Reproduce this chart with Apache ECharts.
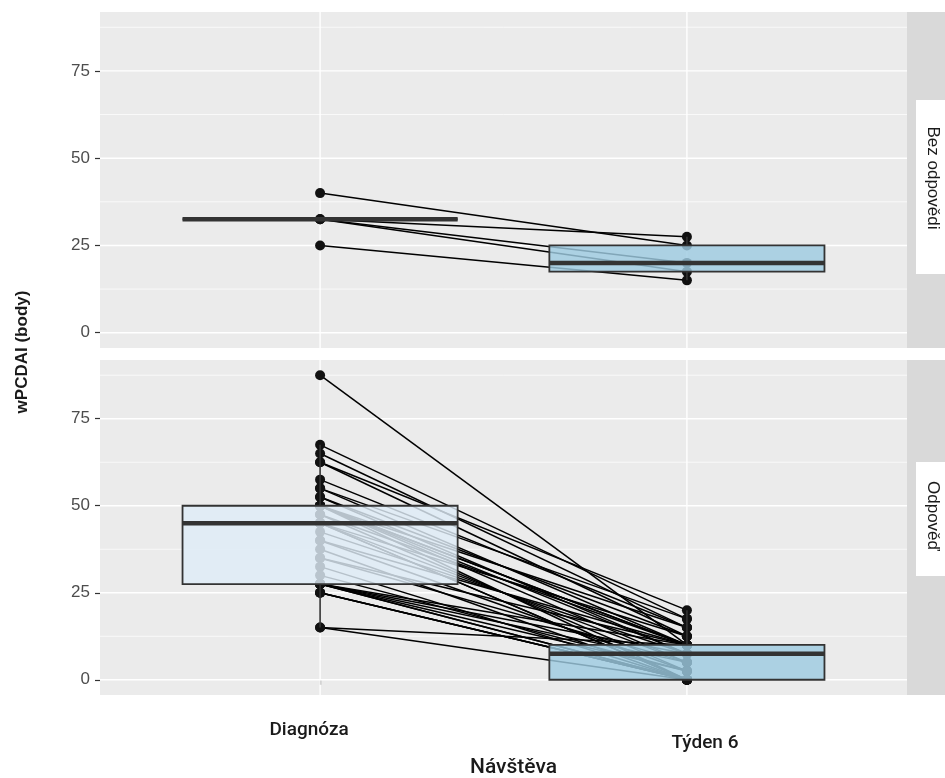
<!DOCTYPE html>
<html>
<head>
<meta charset="utf-8">
<script src="https://cdn.jsdelivr.net/npm/echarts@6/dist/echarts.min.js"></script>
<style>
  html, body { margin: 0; padding: 0; background: #ffffff; }
  #chart { width: 945px; height: 778px; }
</style>
</head>
<body>
<div id="chart"></div>
<script>
// Visits on the x axis, facet panels, and y tick values
const visits = ['Diagnóza', 'Týden 6'];
const panels = ['Bez odpovědi', 'Odpověď'];
const yTicks = [0, 25, 50, 75];
const yMinorTicks = [12.5, 37.5, 62.5, 87.5];

// wPCDAI per patient, paired by index (diagnosis -> week 6)
const noRespDiag  = [40, 32.5, 32.5, 32.5, 25];
const noRespWeek6 = [25, 27.5, 20, 17.5, 15];

const respDiag = [
  87.5, 67.5, 65, 62.5, 62.5, 57.5, 55, 55, 52.5, 52.5,
  50, 50, 50, 50, 50, 50, 47.5, 47.5, 45, 45,
  45, 45, 42.5, 40, 40, 37.5, 35, 35, 32.5, 30,
  27.5, 27.5, 27.5, 27.5, 27.5, 27.5, 25, 25, 25, 15, 15
];
const respWeek6 = [
  10, 17.5, 15, 20, 12.5, 15, 17.5, 10, 12.5, 7.5,
  10, 5, 15, 10, 0, 7.5, 2.5, 10, 0, 5,
  12.5, 0, 7.5, 10, 2.5, 0, 5, 10, 0, 2.5,
  7.5, 0, 5, 10, 0, 2.5, 0, 0, 0, 10, 0
];

const panelData = [
  { diag: noRespDiag, week6: noRespWeek6 },
  { diag: respDiag,   week6: respWeek6 }
];

// Box fill per visit (Blues palette) and box width in category units
const boxFill = ['#DEEBF7', '#9ECAE1'];
const BOX_W = 0.75;
const X_MIN = 0.4, X_MAX = 2.6;
const Y_MIN = -4.375, Y_MAX = 91.875;

// Tukey boxplot statistics, quantile type 7
function quantile(sorted, p) {
  const h = (sorted.length - 1) * p;
  const lo = Math.floor(h), hi = Math.ceil(h);
  return sorted[lo] + (h - lo) * (sorted[hi] - sorted[lo]);
}
function boxStats(vals) {
  const s = vals.slice().sort((a, b) => a - b);
  const q1 = quantile(s, 0.25), med = quantile(s, 0.5), q3 = quantile(s, 0.75);
  const iqr = q3 - q1;
  const lo = s.find(v => v >= q1 - 1.5 * iqr);
  const hi = s.slice().reverse().find(v => v <= q3 + 1.5 * iqr);
  return [lo, q1, med, q3, hi];
}

const grids = [
  { left: 100, top: 12,  width: 807, height: 336, show: true, backgroundColor: '#EBEBEB', borderWidth: 0, outerBoundsMode: 'none' },
  { left: 100, top: 360, width: 807, height: 335, show: true, backgroundColor: '#EBEBEB', borderWidth: 0, outerBoundsMode: 'none' }
];

const xAxes = [0, 1].map(i => {
  const bottom = i === 1;
  return {
    type: 'value', gridIndex: i, min: X_MIN, max: X_MAX,
    axisLine: { show: false },
    splitLine: { show: false },
    axisTick: { show: bottom, customValues: [1, 2], length: 5, lineStyle: { color: '#333333', width: 1.2 } },
    axisLabel: {
      show: bottom, customValues: [1, 2], margin: 26,
      formatter: v => (v === 1 ? '{d|' + visits[0] + '}' : '{t|' + visits[1] + '}'),
      rich: {
        d: { fontFamily: 'Roboto', fontWeight: 500, fontSize: 19, color: '#1A1A1A', padding: [0, 22, 0, 0] },
        t: { fontFamily: 'Roboto', fontWeight: 500, fontSize: 19, color: '#1A1A1A', padding: [13, 0, 0, 36] }
      }
    },
    name: bottom ? 'Návštěva' : '',
    nameLocation: 'middle', nameGap: 62,
    nameTextStyle: { fontFamily: 'Roboto', fontWeight: 500, fontSize: 21, color: '#1A1A1A', padding: [0, 0, 0, 20] }
  };
});

const yAxes = [0, 1].map(i => ({
  type: 'value', gridIndex: i, min: Y_MIN, max: Y_MAX,
  axisLine: { show: false },
  splitLine: { show: false },
  axisTick: { show: true, customValues: yTicks, length: 5, lineStyle: { color: '#333333', width: 1.2 } },
  axisLabel: { show: true, customValues: yTicks, margin: 10, fontFamily: 'Liberation Sans', fontSize: 17, color: '#4D4D4D' }
}));

// grid line specs: [orientation, value, width]  (0 = horizontal, 1 = vertical)
const gridLineSpecs = []
  .concat(yMinorTicks.map(v => [0, v, 0.7]))
  .concat(yTicks.map(v => [0, v, 1.4]))
  .concat([1, 2].map(v => [1, v, 1.4]));

const series = [];
panelData.forEach((pd, i) => {
  // panel grid lines
  series.push({
    type: 'custom', xAxisIndex: i, yAxisIndex: i, z: 1, silent: true,
    data: gridLineSpecs,
    renderItem: (params, api) => {
      const o = api.value(0), v = api.value(1), w = api.value(2);
      const a = o === 0 ? api.coord([X_MIN, v]) : api.coord([v, Y_MIN]);
      const b = o === 0 ? api.coord([X_MAX, v]) : api.coord([v, Y_MAX]);
      return { type: 'line', shape: { x1: a[0], y1: a[1], x2: b[0], y2: b[1] }, style: { stroke: '#FFFFFF', lineWidth: w } };
    }
  });

  // paired lines per patient
  series.push({
    type: 'lines', coordinateSystem: 'cartesian2d', xAxisIndex: i, yAxisIndex: i,
    z: 2, silent: true, polyline: false,
    lineStyle: { color: '#000000', width: 1.5, opacity: 1 },
    data: pd.diag.map((d, k) => ({ coords: [[1, d], [2, pd.week6[k]]] }))
  });

  // points
  const pts = [];
  pd.diag.forEach((d, k) => { pts.push([1, d]); pts.push([2, pd.week6[k]]); });
  series.push({
    type: 'scatter', xAxisIndex: i, yAxisIndex: i, z: 3, silent: true,
    symbol: 'circle', symbolSize: 10,
    itemStyle: { color: '#111111', opacity: 1 },
    data: pts
  });

  // boxplots
  const boxes = [pd.diag, pd.week6].map((vals, j) => [j + 1].concat(boxStats(vals), [j]));
  series.push({
    type: 'custom', xAxisIndex: i, yAxisIndex: i, z: 4, silent: true,
    data: boxes,
    renderItem: (params, api) => {
      const x = api.value(0);
      const lo = api.value(1), q1 = api.value(2), med = api.value(3), q3 = api.value(4), hi = api.value(5);
      const fill = boxFill[api.value(6)];
      const tl = api.coord([x - BOX_W / 2, q3]);
      const br = api.coord([x + BOX_W / 2, q1]);
      const mL = api.coord([x - BOX_W / 2, med]);
      const mR = api.coord([x + BOX_W / 2, med]);
      const cTop = api.coord([x, q3]), cHi = api.coord([x, hi]);
      const cBot = api.coord([x, q1]), cLo = api.coord([x, lo]);
      const stroke = '#333333';
      return {
        type: 'group',
        children: [
          { type: 'line', shape: { x1: cTop[0], y1: cTop[1], x2: cHi[0], y2: cHi[1] }, style: { stroke, lineWidth: 1.6 } },
          { type: 'line', shape: { x1: cBot[0], y1: cBot[1], x2: cLo[0], y2: cLo[1] }, style: { stroke, lineWidth: 1.6 } },
          { type: 'rect', shape: { x: tl[0], y: tl[1], width: br[0] - tl[0], height: br[1] - tl[1] },
            style: { fill, opacity: 1, stroke, lineWidth: 1.8, fillOpacity: 0.82 } },
          { type: 'line', shape: { x1: mL[0], y1: mL[1], x2: mR[0], y2: mR[1] }, style: { stroke, lineWidth: 4.5 } }
        ]
      };
    }
  });
});

// facet strips on the right and the shared y title
const graphic = [
  { type: 'rect', shape: { x: 907, y: 12, width: 38, height: 336 }, style: { fill: '#D9D9D9' }, silent: true },
  { type: 'rect', shape: { x: 907, y: 360, width: 38, height: 335 }, style: { fill: '#D9D9D9' }, silent: true },
  { type: 'rect', shape: { x: 916, y: 100, width: 29, height: 174 }, style: { fill: '#FFFFFF' }, silent: true },
  { type: 'rect', shape: { x: 916, y: 462, width: 29, height: 114 }, style: { fill: '#FFFFFF' }, silent: true },
  { type: 'text', x: 933, y: 178, rotation: -Math.PI / 2,
    style: { text: panels[0], fontFamily: 'Liberation Sans', fontSize: 17, fill: '#1A1A1A', align: 'center', verticalAlign: 'middle' } },
  { type: 'text', x: 933, y: 516, rotation: -Math.PI / 2,
    style: { text: panels[1], fontFamily: 'Liberation Sans', fontSize: 17, fill: '#1A1A1A', align: 'center', verticalAlign: 'middle' } },
  { type: 'text', x: 22, y: 352, rotation: Math.PI / 2,
    style: { text: 'wPCDAI (body)', fontFamily: 'Liberation Sans', fontWeight: 'bold', fontSize: 17, fill: '#1A1A1A', align: 'center', verticalAlign: 'middle' } }
];

const chart = echarts.init(document.getElementById('chart'), null, { renderer: 'canvas' });
chart.setOption({
  animation: false,
  backgroundColor: '#FFFFFF',
  grid: grids,
  xAxis: xAxes,
  yAxis: yAxes,
  series,
  graphic
});
</script>
</body>
</html>
